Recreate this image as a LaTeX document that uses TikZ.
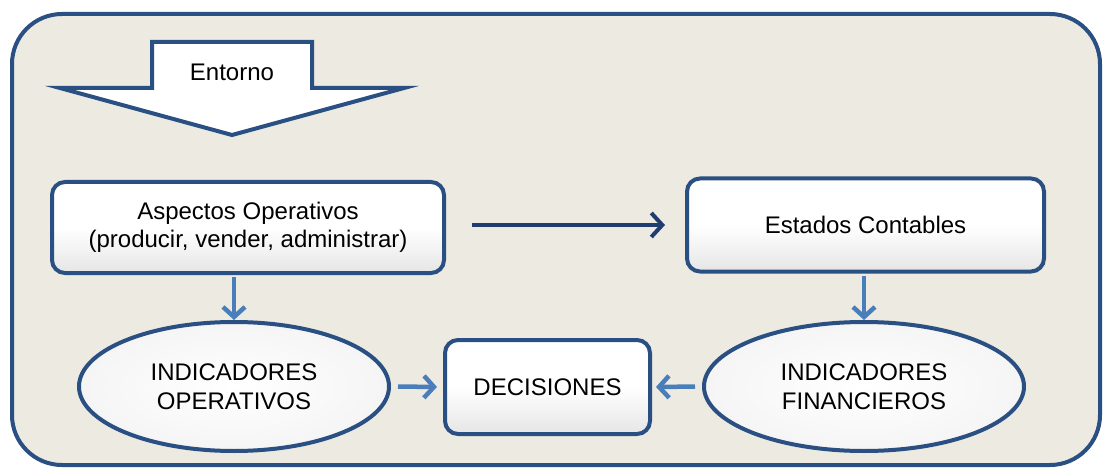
\documentclass[tikz,border=0pt]{standalone}
\usepackage{fontspec}
\setmainfont{Liberation Sans}
\usetikzlibrary{arrows.meta,shapes.geometric}
\definecolor{dblue}{HTML}{2A4F82}
\definecolor{mblue}{HTML}{1F3D6E}
\definecolor{lblue}{HTML}{4A7EBB}
\definecolor{bgc}{HTML}{ECEAE1}
\tikzset{
  txt/.style={font=\fontsize{24pt}{28.5pt}\selectfont, align=center, text=black},
  boxnode/.style={txt, draw=dblue, line width=4pt, rounded corners=13pt,
    shading=axis, top color=white, bottom color=black!10, middle color=white},
  ellnode/.style={txt, ellipse, draw=dblue, line width=4pt, inner sep=0pt,
    shading=radial, inner color=white, outer color=black!4},
  bigarrow/.style={draw=mblue, line width=4pt, -{Straight Barb[length=11pt,width=24pt,line width=4pt]}},
  smallarrow/.style={draw=lblue, line width=4.5pt, -{Straight Barb[length=10pt,width=22pt,line width=4.5pt]}},
  outerbox/.style={draw=dblue, line width=4pt, fill=bgc, rounded corners=50pt},
  entarrow/.style={draw=dblue, line width=4pt, fill=white, line join=miter},
}
\begin{document}
\begin{tikzpicture}[x=1pt,y=-1pt]
\useasboundingbox (0,0) rectangle (1104,468);
\draw[outerbox] (12,14) rectangle (1100,465);
% Entorno arrow
\draw[entarrow] (152,42) -- (312,42) -- (312,88) -- (404,88) -- (232,135) -- (60,88) -- (152,88) -- cycle;
\node[txt] (entorno) at (232,72) {Entorno};
% nodes
\node[boxnode, minimum width=392pt, minimum height=91pt] (aspectos) at (248,227.5)
  {Aspectos Operativos\\(producir, vender, administrar)};
\node[boxnode, minimum width=357pt, minimum height=93pt] (estados) at (865.5,225)
  {Estados Contables};
\node[boxnode, minimum width=205pt, minimum height=94pt] (decisiones) at (547.5,387)
  {DECISIONES};
\node[ellnode, minimum width=310pt, minimum height=129pt] (indop) at (234,386.5)
  {INDICADORES\\OPERATIVOS};
\node[ellnode, minimum width=320pt, minimum height=129pt] (indfin) at (864,386.5)
  {INDICADORES\\FINANCIEROS};
% connectors
\draw[bigarrow, shorten <=26pt, shorten >=20pt] (aspectos.east |- estados.west) -- (estados.west);
\draw[smallarrow, shorten <=2pt] (indop.north |- aspectos.south) -- (indop.north);
\draw[smallarrow, shorten <=2pt] (indfin.north |- estados.south) -- (indfin.north);
\draw[smallarrow, shorten <=7pt, shorten >=6pt] (indop.east) -- (decisiones.west);
\draw[smallarrow, shorten <=7pt, shorten >=4pt] (indfin.west) -- (decisiones.east);
\end{tikzpicture}
\end{document}
